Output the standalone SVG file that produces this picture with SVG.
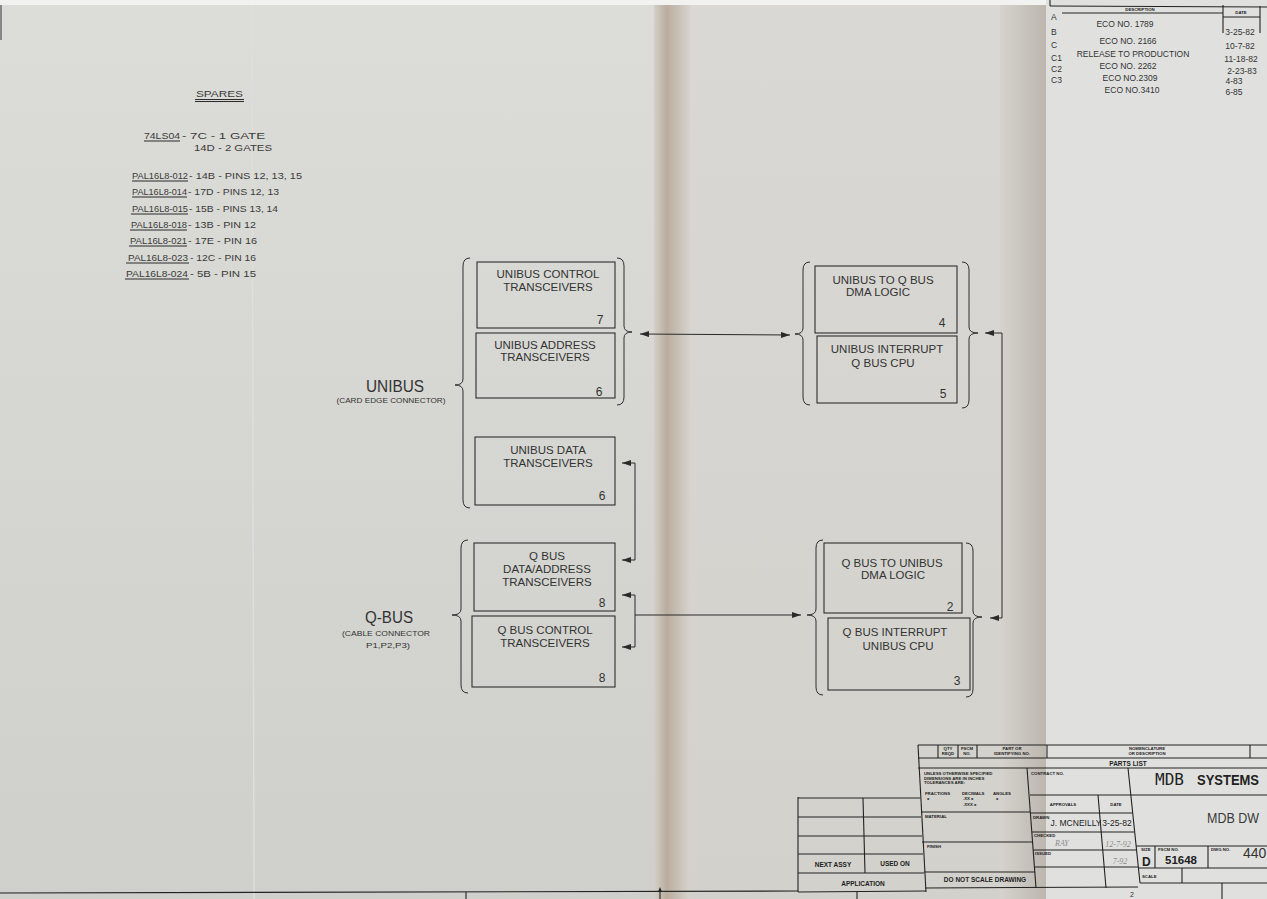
<svg xmlns="http://www.w3.org/2000/svg" width="1267" height="899" viewBox="0 0 1267 899">
<defs>
<linearGradient id="lp" x1="0" y1="0" x2="0" y2="1"><stop offset="0" stop-color="#dcdcd8"/><stop offset="1" stop-color="#cfd0cb"/></linearGradient>
<linearGradient id="mp" x1="0" y1="0" x2="0" y2="1"><stop offset="0" stop-color="#dad8d4"/><stop offset="1" stop-color="#d2d1cc"/></linearGradient>
<linearGradient id="sh1" x1="0" y1="0" x2="1" y2="0"><stop offset="0" stop-color="#d2d0ca"/><stop offset="0.35" stop-color="#baad9e"/><stop offset="1" stop-color="#d6d3ce"/></linearGradient>
<linearGradient id="sh2" x1="0" y1="0" x2="1" y2="0"><stop offset="0" stop-color="#d5d3ce"/><stop offset="1" stop-color="#bcb6ae"/></linearGradient>
<marker id="ah" viewBox="0 0 9 6" refX="9" refY="3" markerWidth="9" markerHeight="6" markerUnits="userSpaceOnUse" orient="auto-start-reverse"><path d="M0,0 L9,3 L0,6 z" fill="#2a2a2a"/></marker>
<style>
.ln{stroke:#2a2a2a;stroke-width:1;fill:none}
.tb{stroke:#222;stroke-width:1.1;fill:none}
.box{stroke:#2e2e2e;stroke-width:1.1;fill:none}
.br{stroke:#2e2e2e;stroke-width:1;fill:none}
.bt{font-family:"Liberation Sans",Arial,sans-serif;font-size:11.5px;fill:#333;text-anchor:middle}
.num{font-family:"Liberation Sans",Arial,sans-serif;font-size:12px;fill:#333;text-anchor:middle}
.sp{font-family:"Liberation Sans",Arial,sans-serif;font-size:9.5px;fill:#3a3a3a}
.rv{font-family:"Liberation Sans",Arial,sans-serif;font-size:8.5px;fill:#333}
.rvm{font-family:"Liberation Sans",Arial,sans-serif;font-size:8.5px;fill:#333;text-anchor:middle}
.tiny{font-family:"Liberation Sans",Arial,sans-serif;font-size:4.3px;font-weight:bold;fill:#222}
.tinym{font-family:"Liberation Sans",Arial,sans-serif;font-size:4.3px;font-weight:bold;fill:#222;text-anchor:middle}
.sm{font-family:"Liberation Sans",Arial,sans-serif;font-size:6.5px;font-weight:bold;fill:#222;text-anchor:middle}
.hand{font-family:"Liberation Serif",serif;font-style:italic;font-size:8px;fill:#8a8a8a}
</style>
</defs>

<!-- paper backgrounds -->
<rect x="0" y="0" width="1267" height="899" fill="url(#lp)"/>
<rect x="675" y="0" width="375" height="899" fill="url(#mp)"/>
<rect x="654" y="0" width="36" height="899" fill="url(#sh1)"/>
<rect x="1000" y="0" width="46" height="899" fill="url(#sh2)"/>
<rect x="1046" y="0" width="221" height="899" fill="#e0e1df"/>
<rect x="0" y="0" width="1046" height="5" fill="#f2f2f0"/>
<line x1="252" y1="5" x2="254" y2="899" stroke="#dededb" stroke-width="1.5"/>
<line x1="1" y1="5" x2="1" y2="40" stroke="#333" stroke-width="1"/>

<!-- spares list -->
<g id="spares">
<text class="sp" x="196" y="97" textLength="47" lengthAdjust="spacingAndGlyphs">SPARES</text>
<line class="ln" x1="195" y1="99.5" x2="244" y2="99.5"/>
<line class="ln" x1="195" y1="101.5" x2="244" y2="101.5"/>
<text class="sp" x="144" y="139" textLength="36" lengthAdjust="spacingAndGlyphs">74LS04</text>
<line class="ln" x1="144" y1="141" x2="180" y2="141"/>
<text class="sp" x="182" y="139" textLength="83" lengthAdjust="spacingAndGlyphs">- 7C  - 1 GATE</text>
<text class="sp" x="194" y="151" textLength="78" lengthAdjust="spacingAndGlyphs">14D  - 2 GATES</text>
<text class="sp" x="132" y="179" textLength="56" lengthAdjust="spacingAndGlyphs">PAL16L8-012</text>
<line class="ln" x1="132" y1="181" x2="188" y2="181"/>
<text class="sp" x="189" y="179" textLength="113" lengthAdjust="spacingAndGlyphs">- 14B - PINS 12, 13, 15</text>
<text class="sp" x="132" y="195" textLength="55" lengthAdjust="spacingAndGlyphs">PAL16L8-014</text>
<line class="ln" x1="132" y1="197" x2="187" y2="197"/>
<text class="sp" x="188" y="195" textLength="91" lengthAdjust="spacingAndGlyphs">- 17D - PINS 12, 13</text>
<text class="sp" x="132" y="212" textLength="56" lengthAdjust="spacingAndGlyphs">PAL16L8-015</text>
<line class="ln" x1="131" y1="214" x2="188" y2="214"/>
<text class="sp" x="189" y="212" textLength="89" lengthAdjust="spacingAndGlyphs">- 15B - PINS 13, 14</text>
<text class="sp" x="131" y="228" textLength="56" lengthAdjust="spacingAndGlyphs">PAL16L8-018</text>
<line class="ln" x1="130" y1="230" x2="187" y2="230"/>
<text class="sp" x="188" y="228" textLength="68" lengthAdjust="spacingAndGlyphs">- 13B - PIN 12</text>
<text class="sp" x="130" y="244" textLength="57" lengthAdjust="spacingAndGlyphs">PAL16L8-021</text>
<line class="ln" x1="129" y1="246" x2="187" y2="246"/>
<text class="sp" x="188" y="244" textLength="69" lengthAdjust="spacingAndGlyphs">- 17E - PIN 16</text>
<text class="sp" x="128" y="261" textLength="60" lengthAdjust="spacingAndGlyphs">PAL16L8-023</text>
<line class="ln" x1="126" y1="263" x2="189" y2="263"/>
<text class="sp" x="190" y="261" textLength="66" lengthAdjust="spacingAndGlyphs">- 12C - PIN 16</text>
<text class="sp" x="126" y="277" textLength="62" lengthAdjust="spacingAndGlyphs">PAL16L8-024</text>
<line class="ln" x1="125" y1="279" x2="189" y2="279"/>
<text class="sp" x="190" y="277" textLength="66" lengthAdjust="spacingAndGlyphs">- 5B - PIN 15</text>
</g>

<!-- revision block -->
<g id="revisions">
<line class="tb" x1="1050" y1="0" x2="1050" y2="6"/>
<line class="tb" x1="1050" y1="6" x2="1267" y2="7"/>
<line class="tb" x1="1062" y1="13" x2="1223" y2="13"/>
<line class="tb" x1="1223" y1="17" x2="1260" y2="17"/>
<line class="tb" x1="1223" y1="5" x2="1223" y2="33"/>
<line class="tb" x1="1260" y1="6" x2="1260" y2="33"/>
<text class="tinym" x="1140" y="11">DESCRIPTION</text>
<text class="tinym" x="1241" y="14">DATE</text>
<text class="rv" x="1051" y="20">A</text>
<text class="rv" x="1051" y="35">B</text>
<text class="rv" x="1051" y="48">C</text>
<text class="rv" x="1051" y="61">C1</text>
<text class="rv" x="1051" y="72">C2</text>
<text class="rv" x="1051" y="83">C3</text>
<text class="rvm" x="1125" y="27">ECO NO. 1789</text>
<text class="rvm" x="1128" y="44">ECO NO. 2166</text>
<text class="rvm" x="1133" y="57">RELEASE TO PRODUCTION</text>
<text class="rvm" x="1128" y="69">ECO NO. 2262</text>
<text class="rvm" x="1130" y="81">ECO NO.2309</text>
<text class="rvm" x="1132" y="93">ECO NO.3410</text>
<text class="rvm" x="1240" y="35">3-25-82</text>
<text class="rvm" x="1240" y="49">10-7-82</text>
<text class="rvm" x="1241" y="62">11-18-82</text>
<text class="rvm" x="1242" y="74">2-23-83</text>
<text class="rvm" x="1234" y="84">4-83</text>
<text class="rvm" x="1234" y="95">6-85</text>
</g>

<!-- bus labels -->
<g id="unibus-label">
<text x="395" y="392" font-family="Liberation Sans, Arial, sans-serif" font-size="16" fill="#333" text-anchor="middle" textLength="58" lengthAdjust="spacingAndGlyphs">UNIBUS</text>
<text x="391" y="403" font-family="Liberation Sans, Arial, sans-serif" font-size="8" fill="#333" text-anchor="middle" textLength="109" lengthAdjust="spacingAndGlyphs">(CARD EDGE CONNECTOR)</text>
<path class="br" d="M470,258 Q463,258 463,266 L463,379 Q463,385 455,385 Q463,385 463,391 L463,500 Q463,508 470,508"/>
</g>
<g id="qbus-label">
<text x="389" y="623" font-family="Liberation Sans, Arial, sans-serif" font-size="16" fill="#333" text-anchor="middle" textLength="48" lengthAdjust="spacingAndGlyphs">Q-BUS</text>
<text x="386" y="636" font-family="Liberation Sans, Arial, sans-serif" font-size="8" fill="#333" text-anchor="middle" textLength="88" lengthAdjust="spacingAndGlyphs">(CABLE CONNECTOR</text>
<text x="388" y="648" font-family="Liberation Sans, Arial, sans-serif" font-size="8" fill="#333" text-anchor="middle" textLength="44" lengthAdjust="spacingAndGlyphs">P1,P2,P3)</text>
<path class="br" d="M468,540 Q461,540 461,548 L461,609 Q461,615 452,615 Q461,615 461,621 L461,685 Q461,693 468,693"/>
</g>

<!-- left nodes -->
<g id="unibus-control">
<rect class="box" x="477" y="262" width="138" height="66"/>
<text class="bt" x="548" y="278">UNIBUS CONTROL</text>
<text class="bt" x="548" y="291">TRANSCEIVERS</text>
<text class="num" x="600" y="324">7</text>
</g>
<g id="unibus-address">
<rect class="box" x="476" y="333" width="139" height="65"/>
<text class="bt" x="545" y="349">UNIBUS ADDRESS</text>
<text class="bt" x="545" y="361">TRANSCEIVERS</text>
<text class="num" x="599" y="396">6</text>
</g>
<path class="br" d="M617,258 Q624,258 624,266 L624,326 Q624,332 632,332 Q624,332 624,338 L624,397 Q624,405 617,405"/>
<g id="unibus-data">
<rect class="box" x="475" y="437" width="140" height="68"/>
<text class="bt" x="548" y="454">UNIBUS DATA</text>
<text class="bt" x="548" y="467">TRANSCEIVERS</text>
<text class="num" x="602" y="500">6</text>
</g>
<g id="qbus-data-address">
<rect class="box" x="474" y="543" width="141" height="68"/>
<text class="bt" x="547" y="560">Q BUS</text>
<text class="bt" x="547" y="573">DATA/ADDRESS</text>
<text class="bt" x="547" y="586">TRANSCEIVERS</text>
<text class="num" x="602" y="607">8</text>
</g>
<g id="qbus-control">
<rect class="box" x="472" y="616" width="143" height="71"/>
<text class="bt" x="545" y="634">Q BUS CONTROL</text>
<text class="bt" x="545" y="647">TRANSCEIVERS</text>
<text class="num" x="602" y="682">8</text>
</g>

<!-- right nodes -->
<g id="unibus-to-qbus-dma">
<rect class="box" x="815" y="266" width="142" height="67"/>
<text class="bt" x="883" y="284">UNIBUS TO Q BUS</text>
<text class="bt" x="878" y="296">DMA LOGIC</text>
<text class="num" x="942" y="327">4</text>
</g>
<g id="unibus-interrupt">
<rect class="box" x="817" y="336" width="140" height="67"/>
<text class="bt" x="887" y="353">UNIBUS INTERRUPT</text>
<text class="bt" x="883" y="367">Q BUS CPU</text>
<text class="num" x="943" y="398">5</text>
</g>
<path class="br" d="M810,262 Q803,262 803,270 L803,328 Q803,334 795,334 Q803,334 803,340 L803,397 Q803,405 810,405"/>
<path class="br" d="M962,262 Q969,262 969,270 L969,327 Q969,333 978,333 Q969,333 969,339 L969,400 Q969,408 962,408"/>
<g id="qbus-to-unibus-dma">
<rect class="box" x="824" y="543" width="138" height="70"/>
<text class="bt" x="892" y="567">Q BUS TO UNIBUS</text>
<text class="bt" x="893" y="579">DMA LOGIC</text>
<text class="num" x="950" y="611">2</text>
</g>
<g id="qbus-interrupt">
<rect class="box" x="828" y="618" width="142" height="72"/>
<text class="bt" x="895" y="636">Q BUS INTERRUPT</text>
<text class="bt" x="898" y="650">UNIBUS CPU</text>
<text class="num" x="957" y="685">3</text>
</g>
<path class="br" d="M823,540 Q816,540 816,548 L816,609 Q816,615 807,615 Q816,615 816,621 L816,687 Q816,695 823,695"/>
<path class="br" d="M966,543 Q973,543 973,551 L973,611 Q973,617 982,617 Q973,617 973,623 L973,689 Q973,697 966,697"/>

<!-- connectors -->
<g id="connectors">
<path class="ln" d="M640,334 L790,335" marker-start="url(#ah)" marker-end="url(#ah)"/>
<path class="ln" d="M985,333 H1002 V618 H990" marker-start="url(#ah)" marker-end="url(#ah)"/>
<path class="ln" d="M622,463 H635 V560 H622" marker-start="url(#ah)" marker-end="url(#ah)"/>
<path class="ln" d="M622,595 H635 V647 H622" marker-start="url(#ah)" marker-end="url(#ah)"/>
<path class="ln" d="M635,615 H801" marker-end="url(#ah)"/>
</g>

<!-- title block -->
<g id="title-block">
<line class="tb" x1="918" y1="745" x2="1267" y2="745"/>
<line class="tb" x1="918" y1="758" x2="1267" y2="758"/>
<line class="tb" x1="918" y1="768" x2="1267" y2="768"/>
<line class="tb" x1="918" y1="745" x2="926" y2="892"/>
<line class="tb" x1="938" y1="745" x2="938" y2="758"/>
<line class="tb" x1="958" y1="745" x2="958" y2="758"/>
<line class="tb" x1="977" y1="745" x2="977" y2="758"/>
<line class="tb" x1="1047" y1="745" x2="1047" y2="758"/>
<line class="tb" x1="1250" y1="745" x2="1250" y2="758"/>
<text class="tinym" x="948" y="750">QTY</text><text class="tinym" x="948" y="755">REQD</text>
<text class="tinym" x="967" y="750">FSCM</text><text class="tinym" x="967" y="755">NO.</text>
<text class="tinym" x="1012" y="750">PART OR</text><text class="tinym" x="1012" y="755">IDENTIFYING NO.</text>
<text class="tinym" x="1147" y="750">NOMENCLATURE</text><text class="tinym" x="1147" y="755">OR DESCRIPTION</text>
<text class="sm" x="1128" y="766" font-size="5.5">PARTS LIST</text>
<!-- tolerance column -->
<line class="tb" x1="1027" y1="768" x2="1036" y2="888"/>
<line class="tb" x1="921" y1="812" x2="1030" y2="812"/>
<line class="tb" x1="922" y1="842" x2="1033" y2="842"/>
<line class="tb" x1="924" y1="872" x2="1035" y2="872"/>
<line class="tb" x1="925" y1="888" x2="1138" y2="887"/>
<text class="tiny" x="924" y="775">UNLESS OTHERWISE SPECIFIED</text>
<text class="tiny" x="924" y="779.5">DIMENSIONS ARE IN INCHES</text>
<text class="tiny" x="924" y="784">TOLERANCES ARE:</text>
<text class="tiny" x="925" y="795">FRACTIONS</text>
<text class="tiny" x="962" y="795">DECIMALS</text>
<text class="tiny" x="993" y="795">ANGLES</text>
<text class="tiny" x="927" y="800">±</text>
<text class="tiny" x="963" y="800">.XX ±</text>
<text class="tiny" x="996" y="800">±</text>
<text class="tiny" x="963" y="806">.XXX ±</text>
<text class="tiny" x="925" y="818">MATERIAL</text>
<text class="tiny" x="927" y="848">FINISH</text>
<text class="sm" x="985" y="882">DO NOT SCALE DRAWING</text>
<!-- approvals -->
<line class="tb" x1="1128" y1="768" x2="1140" y2="883"/>
<line class="tb" x1="1030" y1="795" x2="1267" y2="795"/>
<line class="tb" x1="1031" y1="813" x2="1132" y2="813"/>
<line class="tb" x1="1032" y1="832" x2="1134" y2="832"/>
<line class="tb" x1="1033" y1="850" x2="1136" y2="850"/>
<line class="tb" x1="1035" y1="867" x2="1138" y2="867"/>
<line class="tb" x1="1098" y1="795" x2="1106" y2="888"/>
<text class="tiny" x="1031" y="775">CONTRACT NO.</text>
<text class="tinym" x="1063" y="806">APPROVALS</text>
<text class="tinym" x="1116" y="806">DATE</text>
<text class="tiny" x="1033" y="819">DRAWN</text>
<text x="1076" y="826" font-family="Liberation Sans, Arial, sans-serif" font-size="8.5" fill="#222" text-anchor="middle">J. MCNEILLY</text>
<text x="1117" y="826" font-family="Liberation Sans, Arial, sans-serif" font-size="8.5" fill="#222" text-anchor="middle">3-25-82</text>
<text class="tiny" x="1034" y="837">CHECKED</text>
<text class="hand" x="1055" y="846">RAY</text>
<text class="hand" x="1118" y="847" text-anchor="middle">12-7-92</text>
<text class="tiny" x="1035" y="855">ISSUED</text>
<text class="hand" x="1120" y="864" text-anchor="middle">7-92</text>
<!-- right cells -->
<text x="1155" y="785" font-family="DejaVu Sans Mono, monospace" font-size="16" fill="#222">MDB</text>
<text x="1197" y="785" font-family="Liberation Sans, Arial, sans-serif" font-size="15" font-weight="bold" fill="#222" textLength="62" lengthAdjust="spacingAndGlyphs">SYSTEMS</text>
<text x="1207" y="823" font-family="Liberation Sans, Arial, sans-serif" font-size="14" fill="#3a3a3a" textLength="52" lengthAdjust="spacingAndGlyphs">MDB DW</text>
<line class="tb" x1="1136" y1="846" x2="1267" y2="846"/>
<line class="tb" x1="1138" y1="868" x2="1267" y2="868"/>
<line class="tb" x1="1140" y1="883" x2="1267" y2="883"/>
<line class="tb" x1="1155" y1="846" x2="1155" y2="868"/>
<line class="tb" x1="1208" y1="846" x2="1208" y2="868"/>
<line class="tb" x1="1182" y1="868" x2="1182" y2="883"/>
<line class="tb" x1="1222" y1="883" x2="1222" y2="899"/>
<text class="tiny" x="1141" y="851">SIZE</text>
<text class="tiny" x="1158" y="851">FSCM NO.</text>
<text class="tiny" x="1211" y="851">DWG NO.</text>
<text x="1142" y="866" font-family="Liberation Sans, Arial, sans-serif" font-size="12" font-weight="bold" fill="#222">D</text>
<text x="1181" y="864" font-family="Liberation Sans, Arial, sans-serif" font-size="11.5" font-weight="bold" fill="#222" text-anchor="middle">51648</text>
<text x="1243" y="858" font-family="Liberation Sans, Arial, sans-serif" font-size="14" fill="#333">440</text>
<text class="tiny" x="1142" y="878">SCALE</text>
<text x="1130" y="897" font-family="Liberation Sans, Arial, sans-serif" font-size="7" fill="#333">2</text>
</g>

<!-- application block -->
<g id="application-block">
<line class="tb" x1="798" y1="797" x2="798" y2="892"/>
<line class="tb" x1="798" y1="798" x2="920" y2="798"/>
<line class="tb" x1="798" y1="817" x2="921" y2="817"/>
<line class="tb" x1="798" y1="836" x2="922" y2="836"/>
<line class="tb" x1="798" y1="854" x2="923" y2="854"/>
<line class="tb" x1="798" y1="873" x2="924" y2="873"/>
<line class="tb" x1="863" y1="798" x2="865" y2="873"/>
<text class="sm" x="833" y="867" font-size="5">NEXT ASSY</text>
<text class="sm" x="895" y="866" font-size="5">USED ON</text>
<text class="sm" x="863" y="886">APPLICATION</text>
</g>

<!-- sheet border -->
<g id="border">
<line class="tb" x1="0" y1="893" x2="798" y2="891"/>
<line class="tb" x1="798" y1="892" x2="926" y2="891"/>
<line class="tb" x1="857" y1="892" x2="857" y2="899"/>
<line class="tb" x1="466" y1="892" x2="466" y2="899"/>
<path d="M660,887 L662,892 L658,892 z" fill="#222"/>
<line class="tb" x1="660" y1="892" x2="660" y2="899"/>
</g>
</svg>
